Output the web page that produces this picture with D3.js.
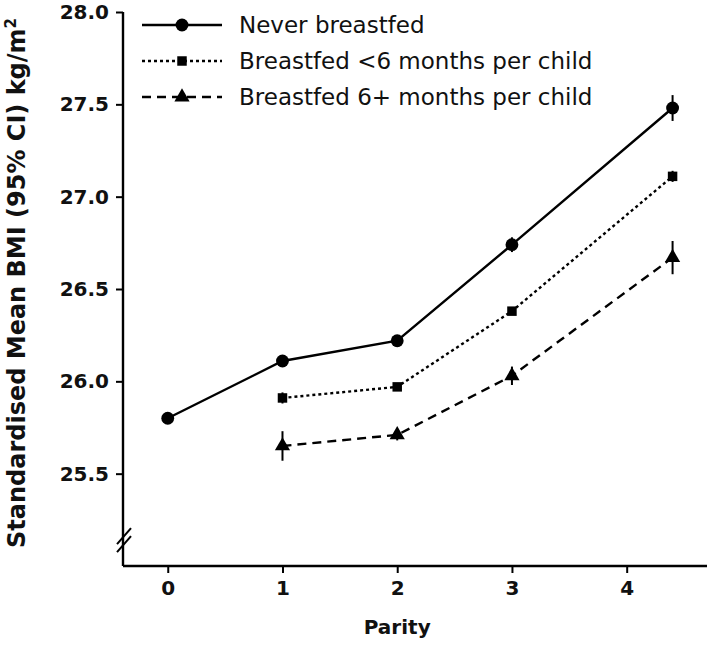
<!DOCTYPE html>
<html><head><meta charset="utf-8">
<script src="https://cdn.jsdelivr.net/npm/d3@7"></script>
<style>body{margin:0;background:#fff;} svg{display:block;}</style>
</head><body>
<svg id="chart" width="710" height="650"></svg>
<script>
const seriesNames = ["Never breastfed", "Breastfed <6 months per child", "Breastfed 6+ months per child"];
const neverX = [0, 1, 2, 3, 4.4];
const neverY = [25.80, 26.11, 26.22, 26.74, 27.48];
const neverErr = [0.01, 0.02, 0.02, 0.04, 0.07];
const lt6X = [1, 2, 3, 4.4];
const lt6Y = [25.91, 25.97, 26.38, 27.11];
const lt6Err = [0.03, 0.02, 0.02, 0.03];
const ge6X = [1, 2, 3, 4.4];
const ge6Y = [25.65, 25.71, 26.03, 26.67];
const ge6Err = [0.08, 0.03, 0.05, 0.09];
const xTicks = [0, 1, 2, 3, 4];
const yTicks = [25.5, 26.0, 26.5, 27.0, 27.5, 28.0];

const svg = d3.select("#chart");
const x = d3.scaleLinear().domain([-0.39, 4.7]).range([123, 707]);
const y = d3.scaleLinear().domain([25.0, 28.0]).range([566, 12]);
const font = "DejaVu Sans, Liberation Sans, Arial, sans-serif";

// axes
const yAxis = svg.append("g").attr("transform", "translate(123,0)")
  .call(d3.axisLeft(y).tickValues(yTicks).tickFormat(d3.format(".1f")).tickSize(7).tickSizeOuter(0));
const xAxis = svg.append("g").attr("transform", "translate(0,566)")
  .call(d3.axisBottom(x).tickValues(xTicks).tickFormat(d3.format("d")).tickSize(7).tickSizeOuter(0));
[yAxis, xAxis].forEach(a => {
  a.select(".domain").attr("stroke", "#000").attr("stroke-width", 2.4);
  a.selectAll(".tick line").attr("stroke", "#000").attr("stroke-width", 2);
  a.selectAll("text").attr("fill", "#111").style("font-family", font).style("font-size", "20px").style("font-weight", "bold");
});
yAxis.select(".domain").attr("d", `M0,${y(28.0)}V${y(25.0)}`);
xAxis.select(".domain").attr("d", `M${x(-0.39)},0H${x(4.7)}`);
yAxis.selectAll(".tick text").attr("x", -14);
xAxis.selectAll(".tick text").attr("y", 15);

// axis break marks
const br = y(25.14);
[-4, 4].forEach(o => {
  svg.append("line").attr("x1", 117).attr("y1", br + o + 8).attr("x2", 131).attr("y2", br + o - 8)
    .attr("stroke", "#000").attr("stroke-width", 2);
});

// titles
svg.append("text").attr("x", x(2)).attr("y", 634).attr("text-anchor", "middle")
  .style("font-family", font).style("font-size", "20px").style("font-weight", "bold").attr("fill", "#111").text("Parity");
const yt = svg.append("text").attr("transform", `translate(25,283) rotate(-90)`)
  .attr("text-anchor", "middle").style("font-family", font).style("font-size", "24px").style("font-weight", "bold").attr("fill", "#111");
yt.append("tspan").text("Standardised Mean BMI (95% CI) kg/m");
yt.append("tspan").attr("dy", -9).style("font-size", "15px").text("2");

const series = [
  {xs: neverX, ys: neverY, es: neverErr, dash: null, marker: "circle"},
  {xs: lt6X, ys: lt6Y, es: lt6Err, dash: "3,3", marker: "square"},
  {xs: ge6X, ys: ge6Y, es: ge6Err, dash: "9,6", marker: "triangle"}
];
const symFor = m => m === "circle" ? d3.symbol(d3.symbolCircle, 130)() :
                   m === "square" ? d3.symbol(d3.symbolSquare, 90)() :
                   d3.symbol(d3.symbolTriangle, 100)();
const line = d3.line().x(d => x(d[0])).y(d => y(d[1]));

series.forEach(s => {
  const pts = s.xs.map((v, i) => [v, s.ys[i], s.es[i]]);
  svg.append("path").attr("d", line(pts)).attr("fill", "none").attr("stroke", "#000")
    .attr("stroke-width", 2.4).attr("stroke-dasharray", s.dash);
  pts.forEach(p => {
    svg.append("line").attr("x1", x(p[0])).attr("x2", x(p[0]))
      .attr("y1", y(p[1] - p[2])).attr("y2", y(p[1] + p[2])).attr("stroke", "#000").attr("stroke-width", 2);
    svg.append("path").attr("d", symFor(s.marker)).attr("transform", `translate(${x(p[0])},${y(p[1])})`).attr("fill", "#000");
  });
});

// legend
const legY = [25, 61, 97];
series.forEach((s, i) => {
  const g = svg.append("g").attr("transform", `translate(0,${legY[i]})`);
  g.append("line").attr("x1", 142).attr("x2", 222).attr("y1", 0).attr("y2", 0)
    .attr("stroke", "#000").attr("stroke-width", 2.4).attr("stroke-dasharray", s.dash);
  g.append("path").attr("d", symFor(s.marker)).attr("transform", "translate(182,0)").attr("fill", "#000");
  g.append("text").attr("x", 239).attr("y", 0).attr("dy", "0.36em").style("font-family", font)
    .style("font-size", "23px").attr("fill", "#111").text(seriesNames[i]);
});
</script>
</body></html>
